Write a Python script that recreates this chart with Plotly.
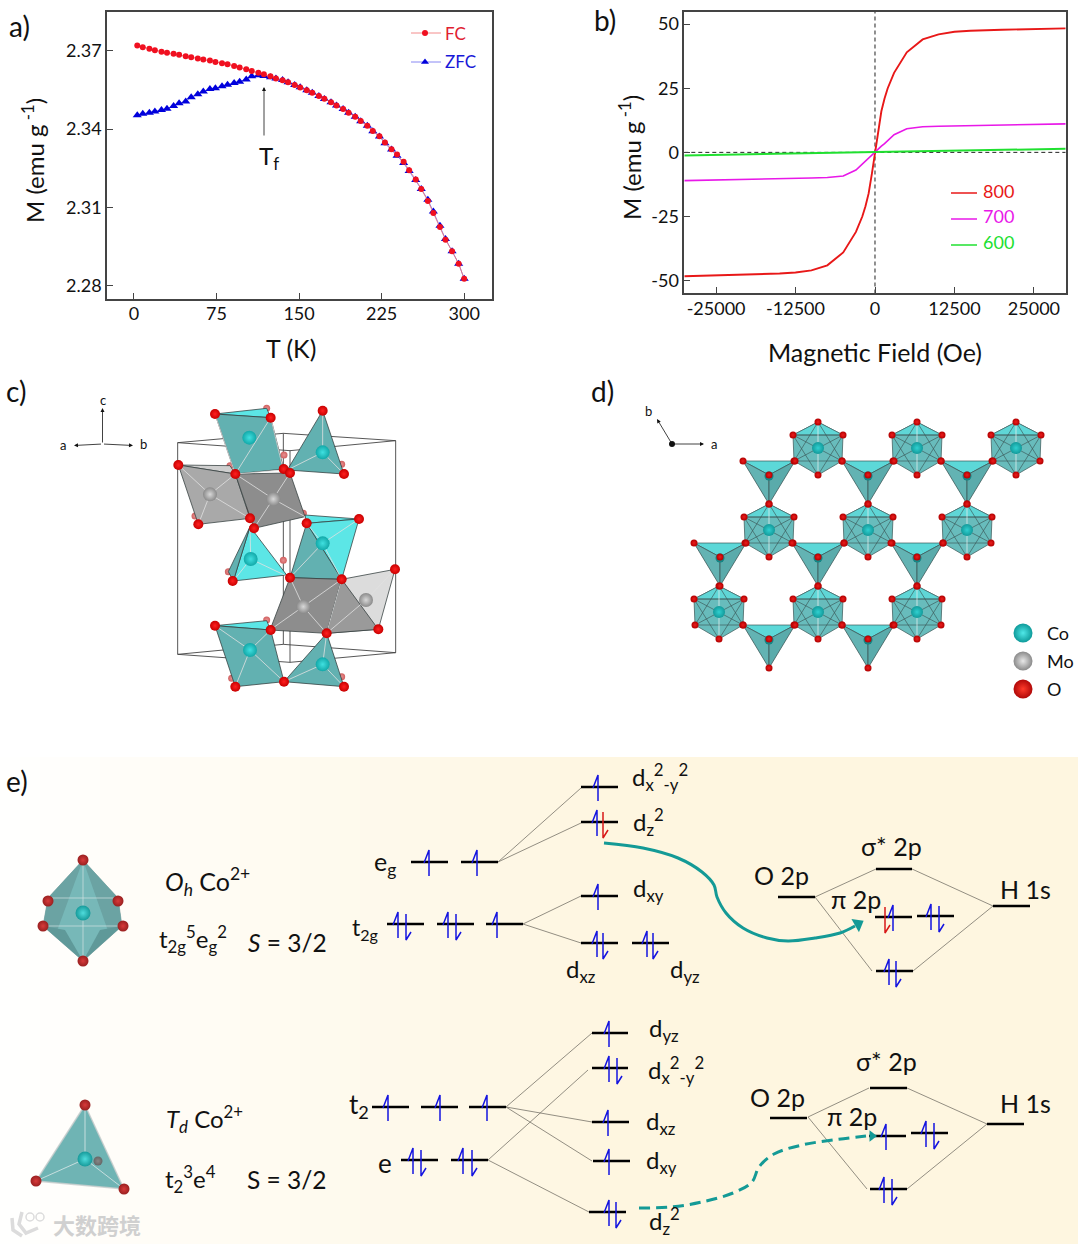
import plotly.graph_objects as go

FONT = "Lato"
# ---------- panel a ----------
T = [3,8,14,19,25,30,36,41,47,52,58,63,69,74,80,85,91,96,102,107,113,118,124,129,135,140,146,151,157,162,168,173,179,184,190,195,201,206,212,217,223,228,234,239,245,250,256,261,267,272,278,283,289,295,300]
FC = [2.3720,2.3713,2.3707,2.3702,2.3696,2.3692,2.3688,2.3684,2.3679,2.3675,2.3670,2.3666,2.3662,2.3657,2.3652,2.3648,2.3641,2.3636,2.3629,2.3622,2.3616,2.3610,2.3602,2.3594,2.3587,2.3579,2.3569,2.3559,2.3549,2.3539,2.3527,2.3516,2.3503,2.3490,2.3477,2.3463,2.3447,2.3431,2.3413,2.3393,2.3373,2.3349,2.3323,2.3303,2.3275,2.3243,2.3207,2.3171,2.3125,2.3079,2.3025,2.2977,2.2933,2.2885,2.2827]
ZFC = [2.3453,2.3459,2.3463,2.3467,2.3473,2.3478,2.3488,2.3499,2.3506,2.3522,2.3533,2.3544,2.3553,2.3556,2.3564,2.3570,2.3576,2.3581,2.3590,2.3602,2.3606,2.3603,2.3598,2.3594,2.3588,2.3579,2.3569,2.3560,2.3549,2.3539,2.3527,2.3515,2.3503,2.3490,2.3477,2.3463,2.3447,2.3430,2.3413,2.3392,2.3372,2.3346,2.3322,2.3298,2.3270,2.3240,2.3205,2.3171,2.3130,2.3085,2.3030,2.2980,2.2933,2.2885,2.2827]
A_XT = [0,75,150,225,300]
A_YT = [2.28,2.31,2.34,2.37]
# ---------- panel b ----------
H = [-30000,-25000,-20000,-15000,-12500,-10000,-7500,-5000,-3000,-2000,-1500,-1000,-500,0,500,1000,1500,2000,3000,5000,7500,10000,12500,15000,20000,25000,30000]
M800 = [-48.3,-48.0,-47.7,-47.2,-46.8,-46.0,-44.0,-39.0,-31.0,-25.0,-21.0,-16.0,-8.5,0,8.5,16.0,21.0,25.0,31.0,39.0,44.0,46.0,47.0,47.4,47.8,48.0,48.3]
M700 = [-11.0,-10.8,-10.5,-10.3,-10.2,-10.0,-9.8,-9.2,-6.9,-4.5,-3.4,-2.4,-1.2,0,1.2,2.4,3.4,4.5,6.9,9.2,10.0,10.2,10.3,10.4,10.6,10.9,11.1]
M600 = [-1.2,-1.0,-0.8,-0.6,-0.5,-0.45,-0.35,-0.25,-0.15,-0.1,-0.08,-0.05,-0.03,0,0.03,0.06,0.09,0.12,0.2,0.3,0.4,0.5,0.6,0.7,0.95,1.2,1.4]
B_XT = [-25000,-12500,0,12500,25000]
B_XL = ["-25000","-12500","0","12500","25000"]
B_YT = [-50,-25,0,25,50]
B_YL = ["-50","-25","0","25","50"]

# ---------- panel e, schematic level diagrams: (x1, x2, y) on the page scale ----------
LEVELS = [(411,448,862),(461,498,862),(387,424,924),(437,474,924),(486,523,924),
          (581,618,787),(581,618,822),(581,618,896),(581,618,943),(632,669,943),
          (778,815,897),(876,912,869),(875,912,917),(917,954,916),(876,913,971),(993,1030,906),
          (372,409,1107),(421,458,1107),(469,506,1107),(401,438,1160),(451,488,1160),
          (592,628,1033),(592,628,1068),(592,629,1122),(593,630,1161),(589,626,1212),
          (770,807,1118),(870,907,1088),(869,906,1136),(911,948,1133),(870,907,1189),(987,1024,1124)]
LINKS = [[(498,862),(581,788)],[(498,862),(581,823)],[(523,924),(581,896)],[(523,924),(581,943)],
         [(815,897),(876,869)],[(912,869),(993,906)],[(815,897),(872,971)],[(913,971),(993,906)],
         [(506,1107),(592,1033)],[(506,1107),(592,1122)],[(506,1107),(592,1161)],
         [(488,1160),(588,1070)],[(488,1160),(589,1212)],
         [(808,1117),(869,1088)],[(907,1088),(987,1124)],[(808,1117),(867,1189)],[(907,1189),(987,1124)]]
UP_BLUE = [(429,862),(477,862),(398,924),(448,924),(497,924),(598,787),(597,822),(598,896),(597,943),(647,943),(893,917),(931,916),(889,971),
           (388,1107),(440,1107),(487,1107),(413,1160),(463,1160),(609,1033),(609,1068),(608,1122),(609,1161),(609,1212),(886,1136),(926,1133),(884,1189)]
DOWN_BLUE = [(406,924),(456,924),(603,943),(653,943),(939,916),(896,971),(421,1160),(472,1160),(617,1068),(616,1212),(934,1133),(892,1189)]
DOWN_RED = [(603,822),(885,917)]
SOLID_PATH_X = [604,643,678,702,714,717,726,743,767,788,815,840,855]
SOLID_PATH_Y = [843,848,858,872,885,897,913,928,938,941,938,933,926]
DASH_PATH_X = [639,671,702,733,752,759,774,802,833,866]
DASH_PATH_Y = [1208,1207,1202,1193,1182,1167,1154,1145,1140,1136]

E_TEXT = [
 ("d<sub>x</sub><sup>2</sup><sub>-y</sub><sup>2</sup>",630,777,"left",24),("d<sub>z</sub><sup>2</sup>",631,822,"left",24),
 ("d<sub>xy</sub>",631,889,"left",24),("d<sub>xz</sub>",564,970,"left",24),("d<sub>yz</sub>",668,970,"left",24),
 ("O 2p",781,875,"center",25),("σ* 2p",891,846,"center",25),("π 2p",856,899,"center",25),("H 1s",1025,889,"center",25),
 ("e<sub>g</sub>",372,863,"left",25),("t<sub>2g</sub>",350,928,"left",23),
 ("<i>O<sub>h</sub></i> Co<sup>2+</sup>",163,881,"left",25),("t<sub>2g</sub><sup>5</sup>e<sub>g</sub><sup>2</sup>",157,939,"left",24),("<i>S</i> = 3/2",246,942,"left",24.5),
 ("<i>T<sub>d</sub></i> Co<sup>2+</sup>",164,1119,"left",24),("t<sub>2</sub><sup>3</sup>e<sup>4</sup>",163,1179,"left",24),("S = 3/2",245,1179,"left",24.5),
 ("t<sub>2</sub>",347,1105,"left",26),("e",376,1163,"left",26),
 ("d<sub>yz</sub>",647,1029,"left",24),("d<sub>x</sub><sup>2</sup><sub>-y</sub><sup>2</sup>",646,1070,"left",24),
 ("d<sub>xz</sub>",644,1122,"left",24),("d<sub>xy</sub>",644,1161,"left",24),("d<sub>z</sub><sup>2</sup>",647,1221,"left",24),
 ("O 2p",777,1097,"center",25),("σ* 2p",886,1061,"center",25),("π 2p",852,1116,"center",25),("H 1s",1025,1103,"center",25),
]
PANEL_TAGS = [("a)",7,26),("b)",592,20),("c)",4,391),("d)",589,391),("e)",4,781)]

# ---------- panel d, octahedra and tetrahedra centres ----------
OCTA_D = [(818,448),(917,448),(1016,448),(769,530),(868,530),(967,530),(719,612),(818,612),(917,612)]
TETRA_D = [(769,475),(868,475),(967,475),(720,557),(818,557),(917,557),(769,639),(868,639)]

# ---------- panel c, read as crop coordinates ----------
C_CELL = [[(533,203),(850,175),(1187,197),(870,227),(533,203)],[(533,838),(850,808),(1187,833),(870,862),(533,838)],
          [(533,203),(533,838)],[(850,175),(850,808)],[(1187,197),(1187,833)],[(870,227),(870,862)]]
TEAL="#62b1b1"; CYAN="#5ce6e6"; GR1="#a9a9a9"; GR2="#8d8d8d"; GR3="#dcdcdc"
C_POLYS = [
 ([(645,117),(800,100),(812,128)],CYAN),
 ([(645,117),(812,128),(851,282),(706,297)],TEAL),
 ([(968,107),(862,285),(1032,297)],TEAL),
 ([(535,270),(690,272),(706,297)],"#cfcfcf"),
 ([(535,270),(706,297),(750,430),(595,448)],GR1),
 ([(706,297),(870,294),(915,425),(762,460)],GR2),
 ([(750,455),(860,600),(700,618)],CYAN),
 ([(750,455),(685,590),(700,618)],TEAL),
 ([(915,420),(1077,432),(920,445)],CYAN),
 ([(920,445),(1077,432),(1025,613)],CYAN),
 ([(920,445),(1025,613),(870,608)],TEAL),
 ([(870,608),(1025,613),(980,775),(810,765)],GR2),
 ([(1025,613),(1185,583),(1135,763),(980,775)],GR3),
 ([(980,775),(1025,613),(1135,763)],"#9a9a9a"),
 ([(645,752),(800,737),(812,765)],CYAN),
 ([(645,752),(812,765),(852,920),(706,935)],TEAL),
 ([(980,775),(852,920),(1032,935)],TEAL),
]
C_EDGES = [[(645,117),(706,297),(812,128)],[(706,297),(850,285),(812,128)],[(968,107),(968,232),(1032,297)],[(862,285),(968,232)],
           [(535,270),(630,358),(750,430)],[(706,297),(630,358),(595,448)],[(706,297),(820,372),(915,425)],[(870,294),(820,372),(762,460)],
           [(870,608),(910,695),(980,775)],[(1025,613),(910,695),(810,765)],[(1025,613),(980,775)],[(1185,583),(1098,675),(980,775)],
           [(920,445),(968,505),(1025,613)],[(1077,432),(968,505),(870,608)],[(750,455),(752,552),(870,608)],[(700,618),(752,552)],
           [(645,752),(750,825),(852,920)],[(812,765),(750,825),(706,935)],[(980,775),(968,868),(1032,935)],[(852,920),(968,868)]]
C_CO = [(748,188),(968,232),(968,505),(752,552),(750,825),(968,868)]
C_MO = [(630,358),(820,372),(910,695),(1098,675)]
C_O_FAINT = [(800,100),(690,272),(852,240),(1025,268),(585,423),(740,405),(910,415),(850,556),(685,590),(800,735),(970,740),(1130,733),(695,910),(1025,905)]
C_O = [(645,117),(812,128),(968,107),(535,270),(706,297),(851,282),(870,294),(1032,297),(595,448),(750,430),(762,460),(920,445),(1077,432),(870,608),(698,618),(1025,613),(1185,583),(645,752),(812,765),(980,775),(1135,763),(852,920),(706,935),(1032,935)]

def z3(p):
    return (p[0]/3, 375+p[1]/3)

fig = go.Figure()
OV = dict(xaxis="x3", yaxis="y3", hoverinfo="skip", showlegend=False)

def seg(paths, color, width, **kw):
    xs, ys = [], []
    for path in paths:
        for (x, y) in path:
            xs.append(x); ys.append(y)
        xs.append(None); ys.append(None)
    fig.add_trace(go.Scatter(x=xs, y=ys, mode="lines", line=dict(color=color, width=width, **kw), **OV))

def poly(pts, fill, lc="rgba(70,90,90,0.8)", lw=1):
    xs = [p[0] for p in pts]+[pts[0][0]]
    ys = [p[1] for p in pts]+[pts[0][1]]
    fig.add_trace(go.Scatter(x=xs, y=ys, mode="lines", fill="toself", fillcolor=fill, line=dict(color=lc, width=lw), **OV))

def balls(pts, outer, centre, size):
    fig.add_trace(go.Scatter(x=[p[0] for p in pts], y=[p[1] for p in pts], mode="markers",
        marker=dict(color=outer, size=size, line=dict(width=0), gradient=dict(type="radial", color=centre)), **OV))

def head(x, y, angle, size, color="#149a96"):
    fig.add_trace(go.Scatter(x=[x], y=[y], mode="markers", marker=dict(symbol="triangle-up", angle=angle, size=size, color=color, line=dict(width=0)), **OV))

# panel a
fig.add_trace(go.Scatter(x=T, y=ZFC, mode="lines+markers", line=dict(color="#6a6af0", width=0.8),
    marker=dict(symbol="triangle-up", size=8, color="#0000dc"), xaxis="x", yaxis="y", showlegend=False, name="ZFC"))
fig.add_trace(go.Scatter(x=T, y=FC, mode="lines+markers", line=dict(color="#f07070", width=0.8),
    marker=dict(symbol="circle", size=6, color="#f01020"), xaxis="x", yaxis="y", showlegend=False, name="FC"))
# panel b
fig.add_trace(go.Scatter(x=[0,0], y=[-55,55], mode="lines", line=dict(color="#222", width=1, dash="4px,3px"), xaxis="x2", yaxis="y2", showlegend=False))
fig.add_trace(go.Scatter(x=[-30000,30000], y=[0,0], mode="lines", line=dict(color="#222", width=1, dash="4px,3px"), xaxis="x2", yaxis="y2", showlegend=False))
fig.add_trace(go.Scatter(x=H, y=M800, mode="lines", line=dict(color="#e81818", width=1.9), xaxis="x2", yaxis="y2", showlegend=False, name="800"))
fig.add_trace(go.Scatter(x=H, y=M700, mode="lines", line=dict(color="#e818e8", width=1.6), xaxis="x2", yaxis="y2", showlegend=False, name="700"))
fig.add_trace(go.Scatter(x=H, y=M600, mode="lines", line=dict(color="#20e030", width=2), xaxis="x2", yaxis="y2", showlegend=False, name="600"))

ann = []
def txt(s, x, y, anchor="left", size=20, color="#111", **kw):
    ann.append(dict(text=s, x=x, y=y, xref="x3", yref="y3", xanchor=anchor, yanchor="middle", showarrow=False,
                    font=dict(family=FONT, size=size, color=color), **kw))
def arrow(x0, y0, x1, y1, color="#111", width=1, hd=2, hs=1):
    ann.append(dict(text="", x=x1, y=y1, ax=x0, ay=y0, xref="x3", yref="y3", axref="x3", ayref="y3", showarrow=True,
                    arrowhead=hd, arrowsize=hs, arrowwidth=width, arrowcolor=color, standoff=0))

# axis titles placed where the reference has them
txt("T (K)", 291, 348, "center", 25)
txt("M (emu g<sup> -1</sup>)", 33, 161, "center", 24, textangle=-90)
txt("M (emu g<sup> -1</sup>)", 630, 158, "center", 24, textangle=-90)

# manual legends
seg([[(411,33),(441,33)]], "#f07070", 0.8)
balls([(425,33)], "#f01020", "#f01020", 6)
seg([[(411,62),(441,62)]], "#6a6af0", 0.8)
fig.add_trace(go.Scatter(x=[425], y=[62], mode="markers", marker=dict(symbol="triangle-up", size=7, color="#0000dc"), **OV))
txt("FC", 443, 33, size=17, color="#e02030")
txt("ZFC", 443, 61, size=17, color="#1818d8")
txt("T<sub>f</sub>", 257, 157, size=24)
arrow(264, 137, 264, 87, width=0.8)
for lab, col, y, ty in [("800","#e81818",193,191),("700","#e818e8",219,216),("600","#20e030",245,242)]:
    seg([[(951,y),(977,y)]], col, 1.5)
    txt(lab, 981, ty, size=18, color=col)

# panel c
seg([[z3(p) for p in path] for path in C_CELL], "#444", 0.9)
balls([z3(p) for p in C_O_FAINT], "#d06060", "#e89090", 7)
for pts, c in C_POLYS:
    poly([z3(p) for p in pts], c, lc="rgba(50,60,60,0.85)", lw=0.9)
seg([[z3(p) for p in path] for path in C_EDGES], "rgba(225,225,225,0.8)", 1)
balls([z3(p) for p in C_CO], "#12a8a8", "#40e0e0", 14)
balls([z3(p) for p in C_MO], "#8a8a8a", "#d8d8d8", 14)
balls([z3(p) for p in C_O], "#c80000", "#ff2020", 10)
arrow(102.5, 444, 102.5, 408, width=0.8)
arrow(102.5, 444, 74, 445.5, width=0.8)
arrow(102.5, 444, 133, 445.5, width=0.8)
txt("c", 102.5, 400, "center", 13); txt("a", 62.5, 445, "center", 13); txt("b", 143.5, 444, "center", 13)

# panel d
for cx, cy in TETRA_D:
    poly([(cx-26,cy-14),(cx+26,cy-14),(cx,cy)], "#5cd8d8", lc="rgba(60,90,90,0.7)")
    poly([(cx-26,cy-14),(cx,cy),(cx,cy+29)], "#63b3b3", lc="rgba(60,90,90,0.8)")
    poly([(cx+26,cy-14),(cx,cy),(cx,cy+29)], "#5aabab", lc="rgba(60,90,90,0.8)")
for cx, cy in OCTA_D:
    hexa = [(cx,cy-26),(cx+25,cy-13),(cx+24,cy+13),(cx,cy+27),(cx-24,cy+13),(cx-25,cy-13)]
    poly(hexa, "#68bcbc", lc="rgba(70,100,100,0.8)")
    poly([(cx,cy-26),(cx+25,cy-13),(cx-25,cy-13)], "#5fd6d6", lc="rgba(70,100,100,0.7)")
    seg([[(cx-25,cy-13),(cx+25,cy-13)],[(cx-24,cy+13),(cx+24,cy+13)],[(cx-25,cy-13),(cx,cy+27),(cx+25,cy-13)],[(cx-24,cy+13),(cx,cy-26),(cx+24,cy+13)],
         [(cx-25,cy-13),(cx+24,cy+13)],[(cx+25,cy-13),(cx-24,cy+13)]], "rgba(60,90,90,0.75)", 0.9)
    seg([[(cx,cy-26),(cx,cy+27)]], "rgba(230,240,240,0.75)", 1)
O_D = []
for cx, cy in OCTA_D:
    O_D += [(cx,cy-26),(cx+25,cy-13),(cx+24,cy+13),(cx,cy+27),(cx-24,cy+13),(cx-25,cy-13)]
for cx, cy in TETRA_D:
    O_D += [(cx-26,cy-14),(cx+26,cy-14),(cx,cy),(cx,cy+29)]
balls(OCTA_D, "#129a9a", "#30d0d0", 12)
balls([(x,y+1) for x,y in TETRA_D], "#128080", "#1aa0a0", 9)
balls(O_D, "#b00000", "#ee1c1c", 7)
balls([(1023,633)], "#0e9a9a", "#50e8e8", 19)
balls([(1023,661)], "#8a8a8a", "#e8e8e8", 19)
balls([(1023,689)], "#b00808", "#ff3a2a", 19)
txt("Co", 1045, 633, size=18); txt("Mo", 1045, 661, size=18); txt("O", 1045, 689, size=18)
balls([(672,444)], "#111", "#111", 6)
arrow(672, 444, 657, 419, width=0.8)
arrow(672, 444, 704, 444, width=0.8)
txt("b", 648.5, 411, "center", 13); txt("a", 714, 444, "center", 13)

# panel e polyhedra
poly([(83,860),(48,898),(43,926),(83,961),(122,926),(118,898)], "#77b8b8", lc="rgba(120,150,150,0.6)")
poly([(83,860),(48,898),(43,926),(57,931)], "#6ba3a3", lc="rgba(0,0,0,0)")
poly([(83,860),(118,898),(122,926),(108,931)], "#6ba3a3", lc="rgba(0,0,0,0)")
poly([(43,926),(83,961),(65,930)], "#5f9999", lc="rgba(0,0,0,0)")
poly([(122,926),(83,961),(100,930)], "#5f9999", lc="rgba(0,0,0,0)")
seg([[(83,860),(83,961)],[(43,926),(122,926)],[(48,898),(118,898)]], "rgba(210,225,225,0.7)", 1)
balls([(83,860),(83,961),(48,901),(118,901),(43,926),(123,926)], "#992020", "#d83a3a", 11)
balls([(83,913)], "#169a9a", "#4fdcdc", 15)
poly([(85,1105),(36,1181),(124,1189)], "#6fb4b4", lc="rgba(200,205,205,0.8)", lw=1.5)
seg([[(85,1105),(85,1159),(36,1181)],[(85,1159),(124,1189)]], "rgba(220,232,232,0.8)", 1)
balls([(98,1161)], "#666", "#888", 9)
balls([(85,1159)], "#169a9a", "#4fdcdc", 15)
balls([(85,1105),(36,1181),(124,1189)], "#992020", "#d83a3a", 11)

# level diagrams
seg(LINKS, "#77736a", 0.8)
seg([[(a,y),(b,y)] for a,b,y in LEVELS], "#000", 2.4)
def up(p):   x,y=p; return [(x-5,y+1),(x,y-12),(x,y+14)]
def down(p): x,y=p; return [(x,y-10),(x,y+16),(x+5,y+8)]
seg([up(p) for p in UP_BLUE], "#1414e0", 1.5)
seg([down(p) for p in DOWN_BLUE], "#1414e0", 1.5)
seg([down(p) for p in DOWN_RED], "#d81818", 1.5)
fig.add_trace(go.Scatter(x=SOLID_PATH_X, y=SOLID_PATH_Y, mode="lines", line=dict(color="#149a96", width=3, shape="spline"), **OV))
head(858, 924, 60, 13)
fig.add_trace(go.Scatter(x=DASH_PATH_X, y=DASH_PATH_Y, mode="lines", line=dict(color="#149a96", width=3, shape="spline", dash="11px,6px"), **OV))
head(872, 1136, 90, 10)

for s, x, y, a, size in E_TEXT:
    txt(s, x, y, a, size)
for s, x, y in PANEL_TAGS:
    txt(s, x, y, "left", 28)

# watermark
seg([[(12,1218),(13,1230),(22,1236)],[(22,1212),(19,1224),(26,1233),(38,1228)]], "#dcdcdc", 3.5)
fig.add_trace(go.Scatter(x=[30,40], y=[1217,1217], mode="markers", marker=dict(size=8, color="rgba(0,0,0,0)", line=dict(color="#dcdcdc", width=1.5)), **OV))
txt("大数跨境", 51, 1224, size=22, color="#d0d0d0")
ann[-1]["font"]["family"] = "Noto Sans CJK SC"
ann[-1]["font"]["weight"] = 700

# background bands of panel e
shapes = []
def mix(t):
    a, b = (255,255,255), (254,246,224)
    return "rgb(%d,%d,%d)" % tuple(round(a[i]+(b[i]-a[i])*t) for i in range(3))
for i in range(54):
    x0 = i*20
    t = min(1, (x0+10)/600)
    shapes.append(dict(type="rect", xref="x3", yref="y3", x0=x0, x1=min(1078, x0+21), y0=757, y1=1244, fillcolor=mix(t), line=dict(width=0), layer="below"))

AX = dict(showline=True, linecolor="#444", linewidth=1.5, mirror=True, ticks="inside", ticklen=6, tickwidth=1, tickcolor="#444",
          showgrid=False, zeroline=False, tickfont=dict(family=FONT, size=18, color="#111"))
TITLE = dict(family=FONT, size=25, color="#111")
W, HT = 1080, 1244
fig.update_layout(
    width=W, height=HT, margin=dict(l=0,r=0,t=0,b=0), paper_bgcolor="white", plot_bgcolor="rgba(0,0,0,0)",
    showlegend=False, shapes=shapes, annotations=ann, font=dict(family=FONT),
    xaxis=dict(AX, domain=[107/W,491.7/W], range=[-24.5,325], tickvals=A_XT, ticklabelstandoff=-2, anchor="y"),
    yaxis=dict(AX, domain=[1-299/HT,1-12/HT], range=[2.275,2.3848], tickvals=A_YT, tickformat=".2f", anchor="x"),
    xaxis2=dict(AX, domain=[684.3/W,1065.7/W], range=[-30000,30000], tickvals=B_XT, ticktext=B_XL, ticklabelstandoff=-1, title=dict(text="Magnetic Field (Oe)", font=TITLE, standoff=26), anchor="y2"),
    yaxis2=dict(AX, domain=[1-293/HT,1-12/HT], range=[-54.8,54.7], tickvals=B_YT, ticktext=B_YL, anchor="x2"),
    xaxis3=dict(domain=[0,1], range=[0,W], visible=False, anchor="y3", fixedrange=True),
    yaxis3=dict(domain=[0,1], range=[HT,0], visible=False, anchor="x3", fixedrange=True),
)
fig.write_html("out.html", config=dict(displayModeBar=False), post_script="document.body.style.margin='0';document.documentElement.style.overflow='hidden';")
